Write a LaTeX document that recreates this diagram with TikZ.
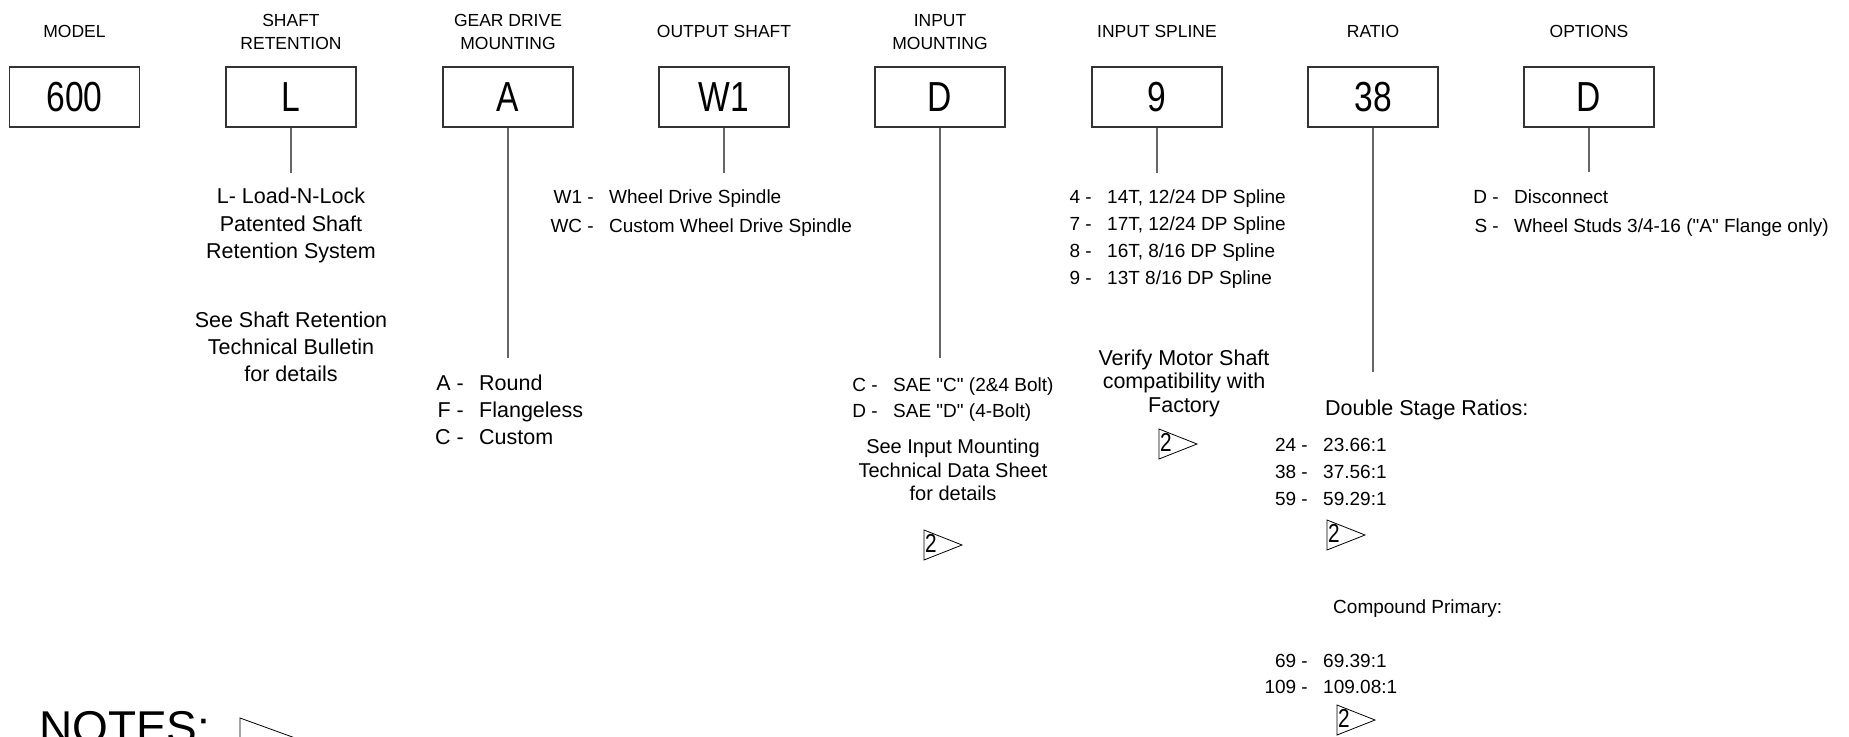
\documentclass[tikz,border=0pt]{standalone}
\usepackage{fontspec}
\setmainfont{Liberation Sans}[Ligatures=TeXOff]
\usepackage{graphicx}
\begin{document}
\begin{tikzpicture}[x=1pt,y=-1pt,
  lbl/.style={font=\fontsize{17.5}{21}\selectfont, anchor=base, inner sep=0pt},
  codebox/.style={draw=black!80, line width=1.2pt, minimum width=130pt, minimum height=60pt, inner sep=0pt, font=\fontsize{42}{42}\selectfont},
  conn/.style={draw=black!60, line width=1.3pt},
  txtA/.style={font=\fontsize{21.5}{26}\selectfont, anchor=base, inner sep=0pt},
  txtB/.style={font=\fontsize{19}{23}\selectfont, inner sep=0pt},
  txtC/.style={font=\fontsize{20}{24}\selectfont, anchor=base, inner sep=0pt},
  keyt/.style={txtB, anchor=base east},
  valt/.style={txtB, anchor=base west},
  notemark/.pic={
    \draw[line width=0.8pt] (0,0) -- (0,30) -- (38,15) -- cycle;
    \node[font=\fontsize{26}{26}\selectfont, anchor=base west, inner sep=0pt] (t) at (1,22) {\scalebox{0.8}[1]{2}};
  }
]
\useasboundingbox (0,0) rectangle (1849,736);
\clip (0,0) rectangle (1849,736);

% top labels
\node[lbl] (h1) at (74.5,37) {MODEL};
\node[lbl] (h2a) at (291,27) {SHAFT};
\node[lbl] (h2b) at (291,49) {RETENTION};
\node[lbl] (h3a) at (508,27) {GEAR DRIVE};
\node[lbl] (h3b) at (508,49) {MOUNTING};
\node[lbl] (h4) at (724,37) {OUTPUT SHAFT};
\node[lbl] (h5a) at (940,27) {INPUT};
\node[lbl] (h5b) at (940,49) {MOUNTING};
\node[lbl] (h6) at (1157,37) {INPUT SPLINE};
\node[lbl] (h7) at (1373,37) {RATIO};
\node[lbl] (h8) at (1589,37) {OPTIONS};

% boxes
\node[codebox] (b1) at (74.5,97) {\scalebox{0.8}[1]{600}};
\node[codebox] (b2) at (291,97) {\scalebox{0.8}[1]{L}};
\node[codebox] (b3) at (508,97) {\scalebox{0.8}[1]{A}};
\node[codebox] (b4) at (724,97) {\scalebox{0.8}[1]{W1}};
\node[codebox] (b5) at (940,97) {\scalebox{0.8}[1]{D}};
\node[codebox] (b6) at (1157,97) {\scalebox{0.8}[1]{9}};
\node[codebox] (b7) at (1373,97) {\scalebox{0.8}[1]{38}};
\node[codebox] (b8) at (1589,97) {\scalebox{0.8}[1]{D}};

% connectors
\coordinate (c2) at (291,173);
\coordinate (c3) at (508,358);
\coordinate (c4) at (724,173);
\coordinate (c5) at (940,358);
\coordinate (c6) at (1157,173);
\coordinate (c7) at (1373,372);
\coordinate (c8) at (1589,172);
\draw[conn] (b2.south) -- (c2);
\draw[conn] (b3.south) -- (c3);
\draw[conn] (b4.south) -- (c4);
\draw[conn] (b5.south) -- (c5);
\draw[conn] (b6.south) -- (c6);
\draw[conn] (b7.south) -- (c7);
\draw[conn] (b8.south) -- (c8);

% shaft retention
\node[txtA] (s1) at (291,203) {L- Load-N-Lock};
\node[txtA] (s2) at (291,231) {Patented Shaft};
\node[txtA] (s3) at (291,258) {Retention System};
\node[txtA] (s4) at (291,327) {See Shaft Retention};
\node[txtA] (s5) at (291,354) {Technical Bulletin};
\node[txtA] (s6) at (291,381) {for details};

% gear drive mounting
\node[keyt, font=\fontsize{21.5}{26}\selectfont] (g1k) at (464,390) {A -};
\node[valt, font=\fontsize{21.5}{26}\selectfont] (g1v) at (479,390) {Round};
\node[keyt, font=\fontsize{21.5}{26}\selectfont] (g2k) at (464,417) {F -};
\node[valt, font=\fontsize{21.5}{26}\selectfont] (g2v) at (479,417) {Flangeless};
\node[keyt, font=\fontsize{21.5}{26}\selectfont] (g3k) at (464,444) {C -};
\node[valt, font=\fontsize{21.5}{26}\selectfont] (g3v) at (479,444) {Custom};

% output shaft
\node[keyt] (o1k) at (594,203) {W1 -};
\node[valt] (o1v) at (609,203) {Wheel Drive Spindle};
\node[keyt] (o2k) at (594,232) {WC -};
\node[valt] (o2v) at (609,232) {Custom Wheel Drive Spindle};

% input mounting
\node[keyt] (m1k) at (878,391) {C -};
\node[valt] (m1v) at (893,391) {SAE "C" (2\&4 Bolt)};
\node[keyt] (m2k) at (878,417) {D -};
\node[valt] (m2v) at (893,417) {SAE "D" (4-Bolt)};
\node[txtC] (m3) at (953,453) {See Input Mounting};
\node[txtC] (m4) at (953,477) {Technical Data Sheet};
\node[txtC] (m5) at (953,500) {for details};
\pic (f1) at (924,530) {notemark};

% input spline
\node[keyt] (p1k) at (1092,203) {4 -};
\node[valt] (p1v) at (1107,203) {14T, 12/24 DP Spline};
\node[keyt] (p2k) at (1092,230) {7 -};
\node[valt] (p2v) at (1107,230) {17T, 12/24 DP Spline};
\node[keyt] (p3k) at (1092,257) {8 -};
\node[valt] (p3v) at (1107,257) {16T, 8/16 DP Spline};
\node[keyt] (p4k) at (1092,284) {9 -};
\node[valt] (p4v) at (1107,284) {13T 8/16 DP Spline};
\node[txtA] (v1) at (1184,365) {Verify Motor Shaft};
\node[txtA] (v2) at (1184,388) {compatibility with};
\node[txtA] (v3) at (1184,412) {Factory};
\pic (f2) at (1159,429) {notemark};

% ratio
\node[txtA, anchor=base west] (r0) at (1325,415) {Double Stage Ratios:};
\node[keyt] (r1k) at (1308,451) {24 -};
\node[valt] (r1v) at (1323,451) {23.66:1};
\node[keyt] (r2k) at (1308,478) {38 -};
\node[valt] (r2v) at (1323,478) {37.56:1};
\node[keyt] (r3k) at (1308,505) {59 -};
\node[valt] (r3v) at (1323,505) {59.29:1};
\pic (f3) at (1327,520) {notemark};
\node[txtB, anchor=base west] (q0) at (1333,613) {Compound Primary:};
\node[keyt] (q1k) at (1308,667) {69 -};
\node[valt] (q1v) at (1323,667) {69.39:1};
\node[keyt] (q2k) at (1308,693) {109 -};
\node[valt] (q2v) at (1323,693) {109.08:1};
\pic (f4) at (1337,705) {notemark};

% options
\node[keyt] (d1k) at (1499,203) {D -};
\node[valt] (d1v) at (1514,203) {Disconnect};
\node[keyt] (d2k) at (1499,232) {S -};
\node[valt] (d2v) at (1514,232) {Wheel Studs 3/4-16 ("A" Flange only)};

% notes
\node[font=\fontsize{46}{46}\selectfont, anchor=base west, inner sep=0pt] (notes) at (39,743) {NOTES:};
\draw[line width=0.8pt] (240,718) -- (309,743) -- (240,768) -- cycle;
\end{tikzpicture}
\end{document}
